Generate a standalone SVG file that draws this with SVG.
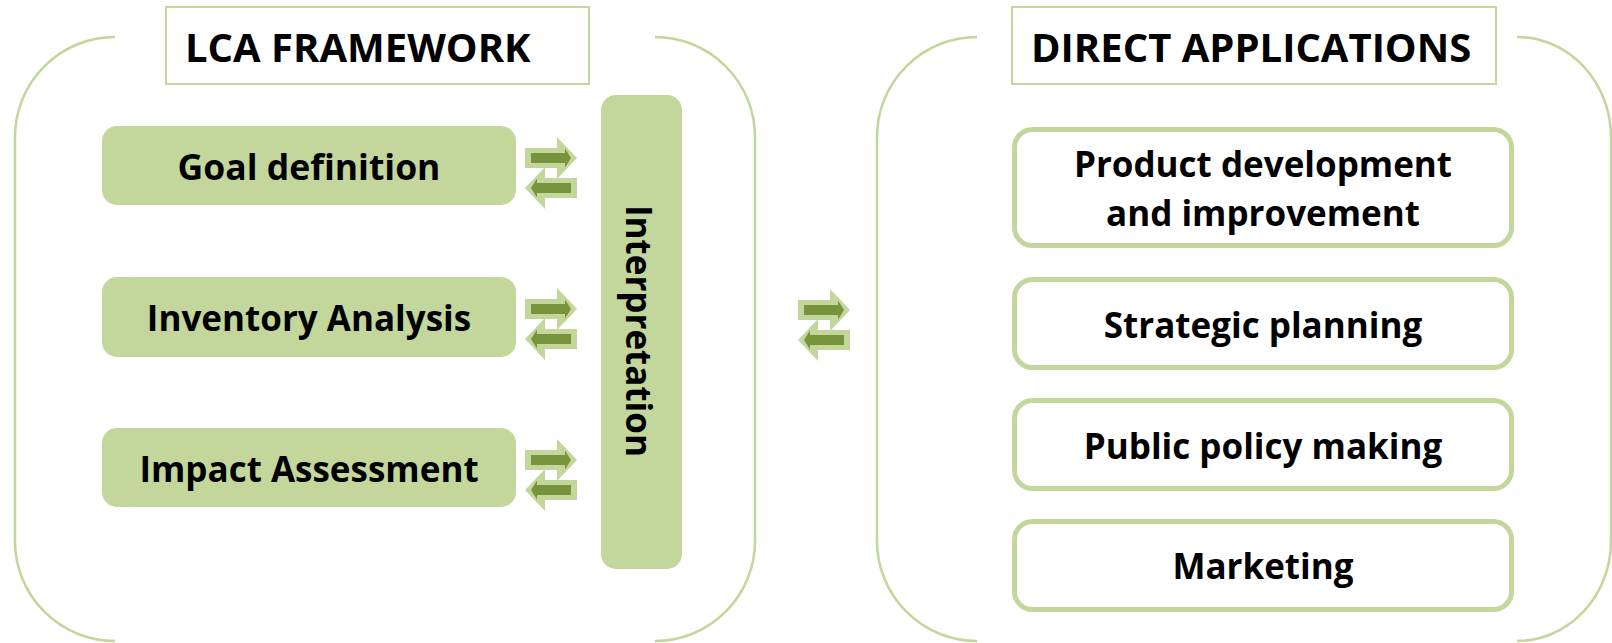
<svg xmlns="http://www.w3.org/2000/svg" xmlns:xlink="http://www.w3.org/1999/xlink" width="1612" height="643" viewBox="0 0 1612 643">
<style>
.bracket{fill:none;stroke:#C3D69B;stroke-width:2.5}
.title{fill:#fff;stroke:#C3D69B;stroke-width:2}
.stage{fill:#C3D69B}
.app{fill:#fff;stroke:#C3D69B;stroke-width:5}
.t{font-family:"Open Sans","Liberation Sans",sans-serif;font-weight:bold;fill:#000;font-size:35px}
.tt{font-family:"Open Sans","Liberation Sans",sans-serif;font-weight:bold;fill:#000;font-size:40px}
.arrOut{fill:#C3D69B}
.arrIn{fill:#77933C}
</style>
<defs>
<g id="pair">
<polygon class="arrOut" points="0,11 32,11 32,0 52,21 32,42 32,31 0,31"/>
<polygon class="arrIn" points="6,16 40,16 40,11.5 46,21 40,30.5 40,26 6,26"/>
<polygon class="arrOut" points="52,41 20,41 20,30 0,51 20,72 20,61 52,61"/>
<polygon class="arrIn" points="46,46 12,46 12,41.5 6,51 12,60.5 12,56 46,56"/>
</g>
</defs>
<rect width="1612" height="643" fill="#fff"/>
<g id="lca-bracket">
<path class="bracket" d="M115,37 A100,100 0 0 0 15,137 L15,541 A100,100 0 0 0 115,641"/>
<path class="bracket" d="M655,37 A100,100 0 0 1 755,137 L755,541 A100,100 0 0 1 655,641"/>
</g>
<g id="app-bracket">
<path class="bracket" d="M977,37 A100,100 0 0 0 877,137 L877,541 A100,100 0 0 0 977,641"/>
<path class="bracket" d="M1517,37 A94,100 0 0 1 1611,137 L1611,541 A94,100 0 0 1 1517,641"/>
</g>
<g id="lca-title">
<rect class="title" x="166" y="7" width="423" height="77"/>
<text class="tt" x="185" y="62">LCA FRAMEWORK</text>
</g>
<g id="app-title">
<rect class="title" x="1012" y="7" width="484" height="77"/>
<text class="tt" x="1031" y="62">DIRECT APPLICATIONS</text>
</g>
<g id="goal">
<rect class="stage" x="102" y="126" width="414" height="79" rx="15"/>
<text class="t" x="309" y="180" text-anchor="middle" style="font-size:35.5px">Goal definition</text>
</g>
<g id="inventory">
<rect class="stage" x="102" y="277" width="414" height="80" rx="15"/>
<text class="t" x="309" y="331" text-anchor="middle">Inventory Analysis</text>
</g>
<g id="impact">
<rect class="stage" x="102" y="428" width="414" height="79" rx="15"/>
<text class="t" x="309" y="482" text-anchor="middle">Impact Assessment</text>
</g>
<g id="interpretation">
<rect class="stage" x="601" y="95" width="81" height="474" rx="15"/>
<text class="t" transform="translate(626,331) rotate(90)" text-anchor="middle">Interpretation</text>
</g>
<g id="connectors">
<use xlink:href="#pair" x="525" y="137"/>
<use xlink:href="#pair" x="525" y="288"/>
<use xlink:href="#pair" x="525" y="439"/>
<use xlink:href="#pair" x="798" y="289"/>
</g>
<g id="product">
<rect class="app" x="1014.5" y="129.5" width="497" height="116" rx="18"/>
<text class="t" x="1263" y="177" text-anchor="middle">Product development</text>
<text class="t" x="1263" y="226" text-anchor="middle">and improvement</text>
</g>
<g id="strategic">
<rect class="app" x="1014.5" y="279.5" width="497" height="88" rx="18"/>
<text class="t" x="1263" y="338" text-anchor="middle">Strategic planning</text>
</g>
<g id="policy">
<rect class="app" x="1014.5" y="400.5" width="497" height="88" rx="18"/>
<text class="t" x="1263" y="459" text-anchor="middle">Public policy making</text>
</g>
<g id="marketing">
<rect class="app" x="1014.5" y="521.5" width="497" height="88" rx="18"/>
<text class="t" x="1263" y="579" text-anchor="middle">Marketing</text>
</g>
</svg>
